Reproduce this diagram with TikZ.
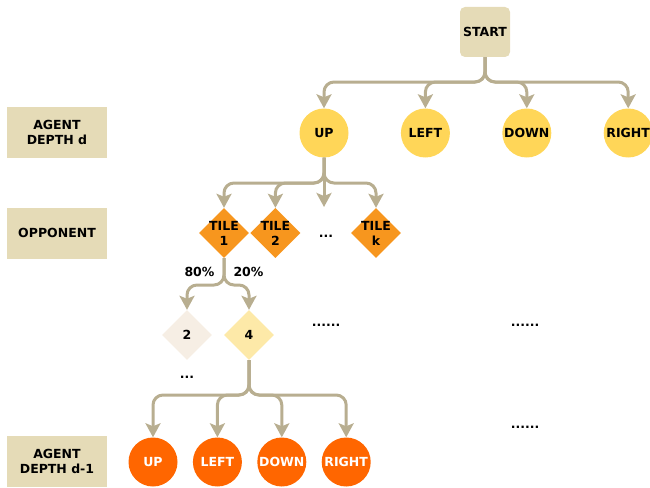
\documentclass[tikz,border=0pt]{standalone}
\usepackage{fontspec}
\setmainfont{DejaVu Sans}
\usetikzlibrary{positioning,shapes.geometric,arrows.meta}
\definecolor{boxtan}{HTML}{E5DBB7}
\definecolor{linktan}{HTML}{B8AE90}
\definecolor{agentyellow}{HTML}{FFD658}
\definecolor{agentred}{HTML}{FF6600}
\definecolor{tileorange}{HTML}{F7961E}
\definecolor{chancepale}{HTML}{F6EEE4}
\definecolor{chanceyellow}{HTML}{FDE9A8}
\tikzset{font=\bfseries\fontsize{12.5}{15}\selectfont}
\tikzset{
rowtag/.style = {fill=boxtan, align=center, minimum width=100pt, minimum height=51pt},
startbox/.style = {fill=boxtan, rounded corners=5pt, minimum size=50pt, inner sep=0pt},
agent/.style = {circle, fill=agentyellow, minimum size=49pt, inner sep=0pt},
nextagent/.style = {circle, fill=agentred, text=white, minimum size=49pt, inner sep=0pt},
tiletext/.style = {align=center, inner sep=0pt},
tile/.style = {diamond, aspect=1, minimum size=50pt, inner sep=0pt, label={[tiletext]center:#1}},
link/.style = {draw=linktan, line width=3pt, rounded corners=10pt, -{Stealth[length=14pt,width=15pt,inset=3pt]}}
}

\begin{document}
\begin{tikzpicture}[x=1pt, y=-1pt]
	\useasboundingbox (0,0) rectangle (650,487);

	% row tags
	\node[rowtag] (tagd) at (57,132) {AGENT\\DEPTH d};
	\node[rowtag] (tagopp) at (57,233) {OPPONENT};
	\node[rowtag] (tagdm) at (57,461) {AGENT\\DEPTH d-1};

	% agent moves
	\node[startbox] (start) at (485,32) {START};
	\node[agent] (up) at (324,133) {UP};
	\node[agent, right =52pt of up] (left) {LEFT};
	\node[agent, right =52pt of left] (down) {DOWN};
	\node[agent, right =52pt of down] (right) {RIGHT};

	% opponent tiles
	\node[tile={TILE\\1}, fill=tileorange] (tile1) at (224,233) {};
	\node[tile={TILE\\2}, fill=tileorange, right =1pt of tile1] (tile2) {};
	\node[tile={TILE\\k}, fill=tileorange] (tilek) at (376,233) {};
	\node (tiledots) at (326,236) {...};
	\coordinate (tileskip) at (324,207);

	% tile values
	\node[tile=2, fill=chancepale] (chance2) at (187,335) {};
	\node[tile=4, fill=chanceyellow] (chance4) at (249,335) {};
	\node (chancedots) at (187,377) {...};
	\node (moredotsA) at (326,325) {......};
	\node (moredotsB) at (525,325) {......};
	\node (moredotsC) at (525,427) {......};

	% next agent moves
	\node[nextagent] (nup) at (153,462) {UP};
	\node[nextagent, right =15pt of nup] (nleft) {LEFT};
	\node[nextagent, right =15pt of nleft] (ndown) {DOWN};
	\node[nextagent, right =15pt of ndown] (nright) {RIGHT};

	% forks
	\coordinate (startfork) at (485,82);
	\coordinate (upfork) at (324,183);
	\coordinate (tilefork) at (224,285);
	\coordinate (chancefork) at (249,395);

	\foreach \c in {up,left,down,right}
		\draw[link] (start.south) -- (startfork) -| (\c.north);
	\foreach \c in {tile1,tile2,tilek}
		\draw[link] (up.south) -- (upfork) -| (\c.north);
	\draw[link] (up.south) -- (tileskip);
	\foreach \c in {chance2,chance4}
		\draw[link] (tile1.south) -- (tilefork) -| (\c.north);
	\foreach \c in {nup,nleft,ndown,nright}
		\draw[link] (chance4.south) -- (chancefork) -| (\c.north);

	\node[left =6pt of tilefork, yshift=13pt] (pct80) {80\%};
	\node[right =6pt of tilefork, yshift=13pt] (pct20) {20\%};

\end{tikzpicture}
\end{document}
